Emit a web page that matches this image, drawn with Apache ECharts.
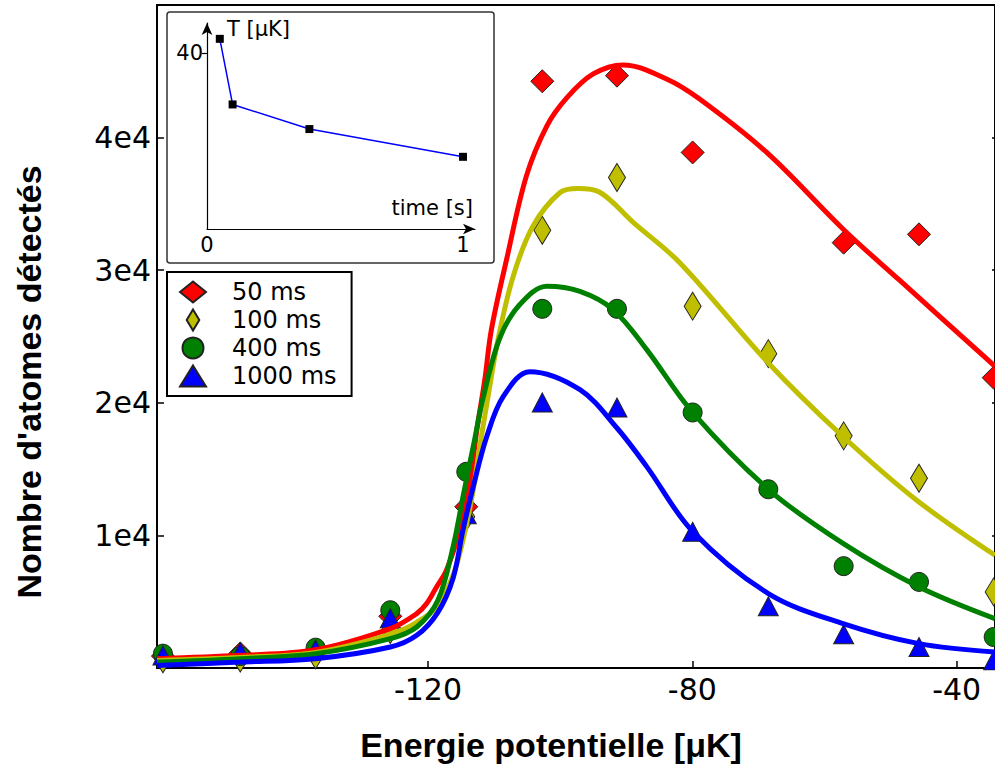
<!DOCTYPE html>
<html>
<head>
<meta charset="utf-8">
<script src="https://cdn.jsdelivr.net/npm/echarts@6/dist/echarts.min.js"></script>
<style>
html,body{margin:0;padding:0;background:#fff;}
#chart{width:995px;height:767px;}
</style>
</head>
<body>
<div id="chart"></div>
<script>
// ---------- data ----------
const seriesNames = ['50 ms', '100 ms', '400 ms', '1000 ms'];
const xPoints = [-160.1, -148.4, -137.0, -125.7, -114.2, -102.7, -91.4, -79.95, -68.5, -57.1, -45.7, -34.4];
const n50   = [900, 1100, 1300, 3900, 12164, 44249, 44672, 38881, null, 32077, 32705, 21894];
const n100  = [700, 750, 1000, 2900, 11400, 33007, 36991, 27284, 23708, 17509, 14311, 5738];
const n400  = [1081, 900, 1535, 4355, 14800, 27087, 27087, 19270, 13479, 7681, 6494, 2336];
const n1000 = [950, 1200, 1400, 3750, 11600, 20026, 19648, 10274, 4657, 2540, 1580, 575];

// fitted curves, sampled along the drawn lines
const fit50X = [-161.0, -148.4, -137.0, -125.7, -121.7, -120.2, -118.7, -117.2, -115.2, -113.6, -112.6, -111.4, -110.4, -108.1, -105.1, -102.0, -99.0, -95.0, -90.45, -83.9, -78.9, -68.75, -57.05, -48.6, -37.0, -34.2];
const fit50Y = [703, 953, 1383, 2971, 4105, 4861, 6116, 7379, 10403, 14183, 17963, 21743, 25523, 30815, 37112, 40892, 43000, 44800, 45481, 44423, 42911, 38881, 33037, 29226, 24011, 22748];
const fit100X = [-161.0, -148.4, -137.0, -125.7, -121.7, -118.5, -116.2, -114.7, -113.15, -112.0, -110.9, -109.4, -107.1, -104.1, -100.0, -97.3, -94.0, -88.9, -81.9, -68.5, -57.2, -46.1, -34.2];
const fit100Y = [575, 800, 1180, 2540, 3447, 4700, 7000, 9647, 13427, 17207, 20480, 24767, 29552, 33332, 35857, 36160, 35880, 33589, 30565, 23005, 17456, 12670, 8500];
const fit400X = [-161.0, -148.4, -137.0, -125.7, -121.7, -118.5, -116.2, -114.7, -113.15, -111.6, -109.1, -106.1, -102.0, -97.0, -92.0, -86.9, -79.95, -68.5, -57.2, -45.7, -34.2];
const fit400Y = [446, 703, 1081, 2215, 3092, 5103, 9140, 12920, 16700, 20480, 24926, 27413, 28796, 28400, 27035, 24010, 19270, 13479, 9397, 6116, 3727];
const fit1000X = [-161.0, -148.4, -137.0, -125.7, -121.7, -118.5, -116.2, -114.7, -113.15, -111.1, -108.6, -104.6, -97.0, -91.4, -86.9, -79.9, -68.5, -57.2, -45.7, -34.2];
const fit1000Y = [197, 446, 703, 1580, 2465, 4200, 6774, 10403, 13676, 17456, 20480, 22350, 20987, 18100, 15188, 10274, 5617, 3349, 1837, 1202];

// inset: temperature vs time
const insetTime = [0.05, 0.1, 0.4, 1.0];
const insetTemp = [43.2, 28.3, 22.7, 16.4];

// tick labels
const xTickValues = [-120, -80, -40];
const yTickValues = [10000, 20000, 30000, 40000];
const insetXTicks = [0, 1];
const insetYTicks = [40];

// ---------- styling ----------
const colors = ['#ff0000', '#bfbf00', '#008000', '#0000ff'];
const thinDiamond = 'path://M6,0L12,10L6,20L0,10Z';
const symbols = ['diamond', thinDiamond, 'circle', 'triangle'];
const symbolSizes = [23, [17, 28], 19, [20, 19]];
const tickFont = 'DejaVu Sans';
const titleFont = 'bold 34px "Liberation Sans", Arial, sans-serif';

const pts = [n50, n100, n400, n1000];
const fitsX = [fit50X, fit100X, fit400X, fit1000X];
const fitsY = [fit50Y, fit100Y, fit400Y, fit1000Y];

const series = [];
// curves
for (let i = 0; i < 4; i++) {
  series.push({
    type: 'line', name: 'fit ' + seriesNames[i], xAxisIndex: 0, yAxisIndex: 0,
    data: fitsX[i].map((x, k) => [x, fitsY[i][k]]),
    showSymbol: false, symbol: 'none', smooth: 0.35,
    lineStyle: { color: colors[i], width: 5 }, itemStyle: { color: colors[i] },
    silent: true, z: 3 + i * 0.01, clip: true
  });
}
// markers
for (let i = 0; i < 4; i++) {
  series.push({
    type: 'scatter', name: seriesNames[i], xAxisIndex: 0, yAxisIndex: 0,
    data: xPoints.map((x, k) => [x, pts[i][k]]).filter(d => d[1] != null),
    symbol: symbols[i], symbolSize: symbolSizes[i],
    itemStyle: { color: colors[i], borderColor: '#222', borderWidth: 1, opacity: 1 },
    z: 2 + i * 0.01
  });
}
// inset
series.push({
  type: 'line', name: 'T', xAxisIndex: 1, yAxisIndex: 2,
  data: insetTime.map((t, k) => [t, insetTemp[k]]),
  symbol: 'rect', symbolSize: 8, showSymbol: true,
  itemStyle: { color: '#000' }, lineStyle: { color: '#0000ff', width: 1.5 },
  z: 12, silent: true
});

const option = {
  animation: false,
  backgroundColor: '#fff',
  grid: [
    { left: 157, top: 5, right: 0, bottom: 99, show: true, borderColor: '#000', borderWidth: 2, backgroundColor: 'transparent' },
    { left: 207, top: 23, width: 268, height: 206, z: 10 }
  ],
  xAxis: [
    {
      gridIndex: 0, type: 'value', min: -161.0, max: -34.2,
      axisLine: { show: false },
      axisTick: { show: true, inside: true, length: 7, customValues: xTickValues, lineStyle: { color: '#000', width: 1.5 } },
      axisLabel: { customValues: xTickValues, fontSize: 30, fontFamily: tickFont, color: '#000', margin: 6 },
      splitLine: { show: false }
    },
    {
      gridIndex: 1, type: 'value', min: 0, max: 1.047, z: 10,
      axisLine: { show: true, onZero: false, symbol: ['none', 'arrow'], symbolSize: [8, 12], lineStyle: { color: '#000', width: 1.2 } },
      axisTick: { show: false },
      axisLabel: { customValues: insetXTicks, fontSize: 21, fontFamily: tickFont, color: '#000', margin: 5, formatter: v => String(v) },
      splitLine: { show: false }
    }
  ],
  yAxis: [
    {
      gridIndex: 0, type: 'value', min: 0, max: 50000, interval: 10000,
      axisLine: { show: false },
      axisTick: { show: true, inside: true, length: 7, customValues: yTickValues, lineStyle: { color: '#000', width: 1.5 } },
      axisLabel: { customValues: yTickValues, fontSize: 30, fontFamily: tickFont, color: '#000', margin: 6, formatter: v => (v / 10000) + 'e4' },
      splitLine: { show: false }
    },
    {
      gridIndex: 0, type: 'value', position: 'right', min: 0, max: 50000, interval: 10000,
      axisLine: { show: false },
      axisTick: { show: true, inside: true, length: 3, customValues: yTickValues, lineStyle: { color: '#000', width: 1.5 } },
      axisLabel: { show: false }, splitLine: { show: false }
    },
    {
      gridIndex: 1, type: 'value', min: 0, max: 46.8, z: 10,
      axisLine: { show: true, onZero: false, symbol: ['none', 'arrow'], symbolSize: [8, 12], lineStyle: { color: '#000', width: 1.2 } },
      axisTick: { show: true, length: 5, customValues: insetYTicks, lineStyle: { color: '#000', width: 1.2 } },
      axisLabel: { customValues: insetYTicks, fontSize: 21, fontFamily: tickFont, color: '#000', margin: 4 },
      splitLine: { show: false }
    }
  ],
  legend: {
    data: seriesNames.map((n, i) => ({ name: n, icon: symbols[i] })),
    orient: 'vertical', left: 167, top: 272,
    itemWidth: 26, itemHeight: 21, itemGap: 4,
    padding: [8, 15, 8, 12],
    borderColor: '#000', borderWidth: 2, backgroundColor: '#fff',
    textStyle: { fontSize: 24, fontFamily: tickFont, color: '#000', padding: [0, 0, 0, 21] },
    selectedMode: false, z: 20
  },
  graphic: {
    elements: [
      { type: 'rect', z: 1, shape: { x: 167, y: 12, width: 327, height: 251, r: 3 }, style: { fill: '#fff', stroke: '#333', lineWidth: 1.5 } },
      { type: 'text', z: 15, x: 227, y: 29, style: { text: 'T [μK]', font: '21px "DejaVu Sans"', fill: '#000', align: 'left', verticalAlign: 'middle', textAlign: 'left', textVerticalAlign: 'middle' } },
      { type: 'text', z: 15, x: 473, y: 208, style: { text: 'time [s]', font: '21px "DejaVu Sans"', fill: '#000', align: 'right', verticalAlign: 'middle', textAlign: 'right', textVerticalAlign: 'middle' } },
      { type: 'text', z: 15, x: 551, y: 745, style: { text: 'Energie potentielle [μK]', font: titleFont, fill: '#000', align: 'center', verticalAlign: 'middle', textAlign: 'center', textVerticalAlign: 'middle' } },
      { type: 'text', z: 15, x: 29, y: 382, rotation: Math.PI / 2, style: { text: "Nombre d'atomes détectés", font: titleFont, fill: '#000', align: 'center', verticalAlign: 'middle', textAlign: 'center', textVerticalAlign: 'middle' } }
    ]
  },
  series: series
};

const chart = echarts.init(document.getElementById('chart'), null, { renderer: 'svg', width: 995, height: 767 });
chart.setOption(option);
</script>
</body>
</html>
